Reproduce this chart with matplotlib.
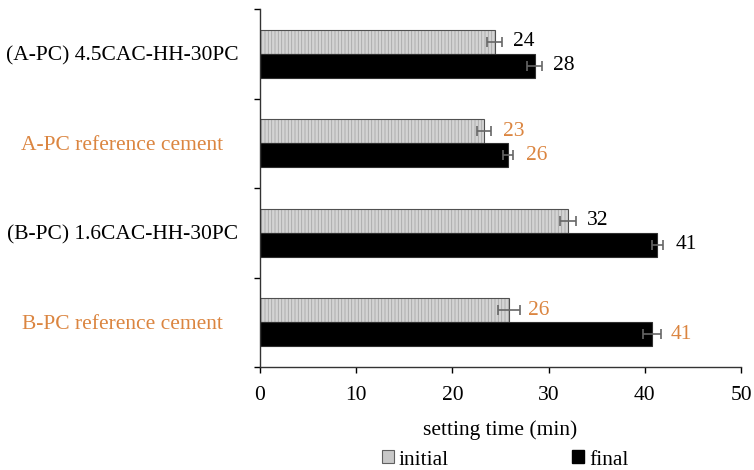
import matplotlib
matplotlib.use("Agg")
import matplotlib.pyplot as plt
import numpy as np
from matplotlib.patches import Patch

categories = ["(A-PC) 4.5CAC-HH-30PC", "A-PC reference cement",
              "(B-PC) 1.6CAC-HH-30PC", "B-PC reference cement"]
initial = [24.4, 23.3, 32.0, 25.9]
final = [28.55, 25.75, 41.3, 40.75]
initial_err = [0.8, 0.7, 0.8, 1.15]
final_err = [0.8, 0.5, 0.6, 0.9]
initial_labels = ["24", "23", "32", "26"]
final_labels = ["28", "26", "41", "41"]
highlight = [False, True, False, True]

ORANGE = "#DB8540"
FS = 15.5
plt.rcParams['font.family'] = ['Liberation Serif', 'DejaVu Serif']
plt.rcParams['hatch.linewidth'] = 0.6

fig = plt.figure(figsize=(7.54, 4.70), dpi=100)
ax = fig.add_axes([260/754, 1-367/470, (741-260)/754, (367-9)/470])

y = np.arange(len(categories))
h = 0.267
yi = y - h/2
yf = y + h/2

ax.barh(yi, initial, height=h, color='#d4d4d4', edgecolor='#a8a8a8', hatch='|||||', lw=0)
ax.barh(yi, initial, height=h, fill=False, edgecolor='#505050', lw=0.8)
ax.barh(yf, final, height=h, color='black', edgecolor='#303030', lw=0.8)

ekw = dict(fmt='none', ecolor='#666666', elinewidth=1.2, capsize=3.5, capthick=1.2)
ax.errorbar(initial, yi, xerr=initial_err, **ekw)
ax.errorbar(final, yf, xerr=final_err, **ekw)

for i in range(len(categories)):
    c = ORANGE if highlight[i] else 'black'
    ax.annotate(initial_labels[i], (initial[i], yi[i]), xytext=(13.5, 0),
                textcoords='offset points', ha='left', va='center', fontsize=FS, color=c)
    ax.annotate(final_labels[i], (final[i], yf[i]), xytext=(13.5, 0),
                textcoords='offset points', ha='left', va='center', fontsize=FS, color=c)

ax.set_xlim(0, 50)
ax.set_ylim(3.5, -0.5)
ax.set_xticks([0, 10, 20, 30, 40, 50])
ax.tick_params(axis='x', labelsize=FS, length=4, direction='out', width=1, pad=10)
ax.set_yticks(y)
ax.set_yticklabels(categories, fontsize=FS)
ax.set_yticks(np.arange(-0.5, 3.6, 1.0), minor=True)
ax.tick_params(axis='y', which='major', length=0, pad=99)
ax.tick_params(axis='y', which='minor', length=4, width=1, direction='out')
for lab, hl in zip(ax.get_yticklabels(), highlight):
    lab.set_horizontalalignment('center')
    if hl:
        lab.set_color(ORANGE)

for s in ['top', 'right']:
    ax.spines[s].set_visible(False)
for s in ['left', 'bottom']:
    ax.spines[s].set_color('#333333')
    ax.spines[s].set_linewidth(1)

ax.set_xlabel("setting time (min)", fontsize=FS, labelpad=11)

handles = [Patch(facecolor='#c8c8c8', edgecolor='#606060', lw=0.8),
           Patch(facecolor='black', edgecolor='black')]
fig.legend(handles, ['initial', 'final'], loc='center', bbox_to_anchor=(505/754, 1-460/470),
           ncol=2, frameon=False, fontsize=FS, handlelength=0.55, handleheight=0.55,
           handletextpad=0.25, columnspacing=5.7)

fig.savefig("out.png", dpi=100)
